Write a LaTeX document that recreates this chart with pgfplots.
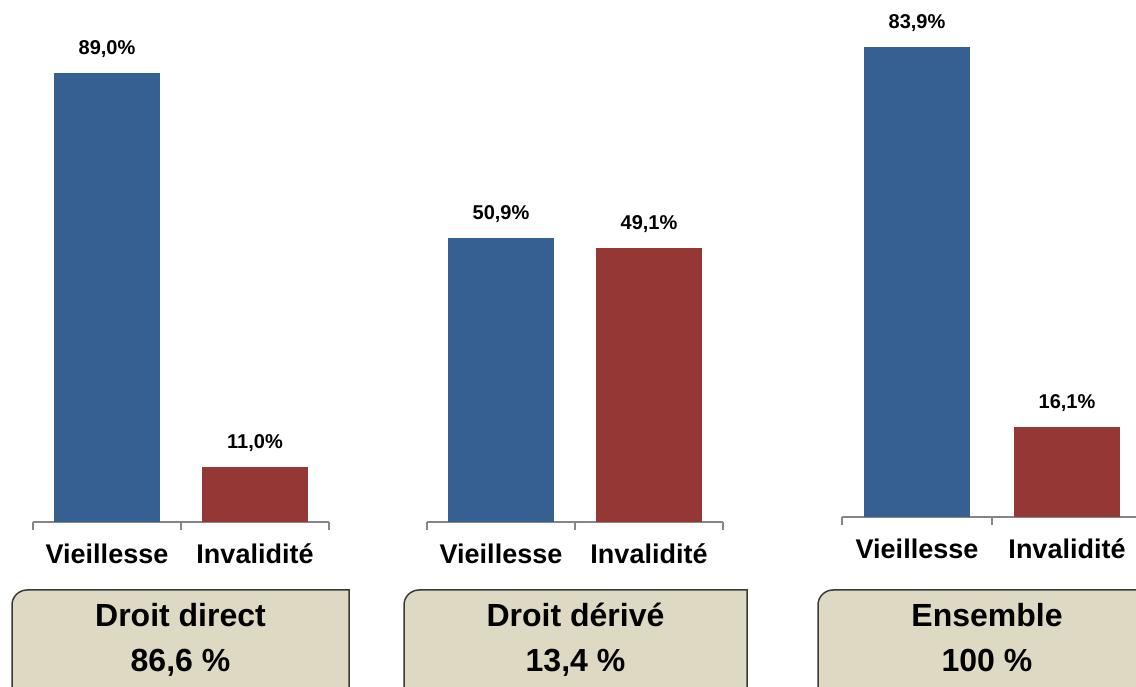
\documentclass[border=0pt]{standalone}
\usepackage{pgfplots}
\pgfplotsset{compat=1.18}
\usepackage{fontspec}
\setmainfont{Liberation Sans}
\definecolor{cblue}{HTML}{376092}
\definecolor{cred}{HTML}{953735}
\definecolor{cbox}{HTML}{DDD9C3}
\definecolor{caxis}{HTML}{868686}
\definecolor{cborder}{HTML}{3A3A3A}
\pgfplotsset{grp/.style={
  scale only axis, width=148pt, ymin=0, xmin=-0.5, xmax=1.5,
  axis x line*=bottom, hide y axis,
  x axis line style={-, draw=caxis, line width=0.75pt},
  xtick={0,1}, xticklabels={Vieillesse,Invalidité},
  major tick length=0pt,
  minor xtick={-0.5,0.5,1.5}, minor tick length=4pt, tick align=outside,
  minor tick style={draw=caxis, line width=0.75pt},
  xticklabel style={font=\bfseries\fontsize{13.5}{16}\selectfont, yshift=-7.5pt},
  nodes near coords, point meta=explicit symbolic,
  every node near coord/.append style={font=\bfseries\fontsize{10}{12}\selectfont, yshift=4pt, black},
  clip=false, anchor=south west
}}
\begin{document}
\begin{tikzpicture}[x=1pt,y=1pt]
% boxes
\foreach \xa/\xb in {6/174.5, 202/373.5, 409/577.5}{
  \draw[fill=cbox, draw=cborder, line width=0.75pt] (\xa,-10) -- (\xa,40.5) arc[start angle=180, end angle=90, radius=7.5] -- (\xb,48) -- (\xb,-10) -- cycle;
}
\node[anchor=base, font=\bfseries\fontsize{16}{19}\selectfont] at (90.25,29.8) {Droit direct};
\node[anchor=base, font=\bfseries\fontsize{16}{19}\selectfont] at (90.25,7.3) {86,6 \%};
\node[anchor=base, font=\bfseries\fontsize{16}{19}\selectfont] at (287.75,29.8) {Droit dérivé};
\node[anchor=base, font=\bfseries\fontsize{16}{19}\selectfont] at (287.75,7.3) {13,4 \%};
\node[anchor=base, font=\bfseries\fontsize{16}{19}\selectfont] at (493.5,29.8) {Ensemble};
\node[anchor=base, font=\bfseries\fontsize{16}{19}\selectfont] at (493.5,7.3) {100 \%};

\begin{axis}[grp, at={(16.5pt,82pt)}, ymax=100, height=252.25pt]
\addplot[ybar, bar width=53pt, fill=cblue, draw=none] coordinates {(0,89.0) [89,0\%]};
\addplot[ybar, bar width=53pt, fill=cred, draw=none] coordinates {(1,11.0) [11,0\%]};
\end{axis}
\begin{axis}[grp, at={(213.5pt,82pt)}, ymax=90, height=251.1pt]
\addplot[ybar, bar width=53pt, fill=cblue, draw=none] coordinates {(0,50.9) [50,9\%]};
\addplot[ybar, bar width=53pt, fill=cred, draw=none] coordinates {(1,49.1) [49,1\%]};
\end{axis}
\begin{axis}[grp, at={(421pt,84.5pt)}, width=150pt, ymax=90, height=252pt]
\addplot[ybar, bar width=53pt, fill=cblue, draw=none] coordinates {(0,83.9) [83,9\%]};
\addplot[ybar, bar width=53pt, fill=cred, draw=none] coordinates {(1,16.1) [16,1\%]};
\end{axis}
\pgfresetboundingbox
\useasboundingbox (0,0) rectangle (568,343);
\end{tikzpicture}
\end{document}
